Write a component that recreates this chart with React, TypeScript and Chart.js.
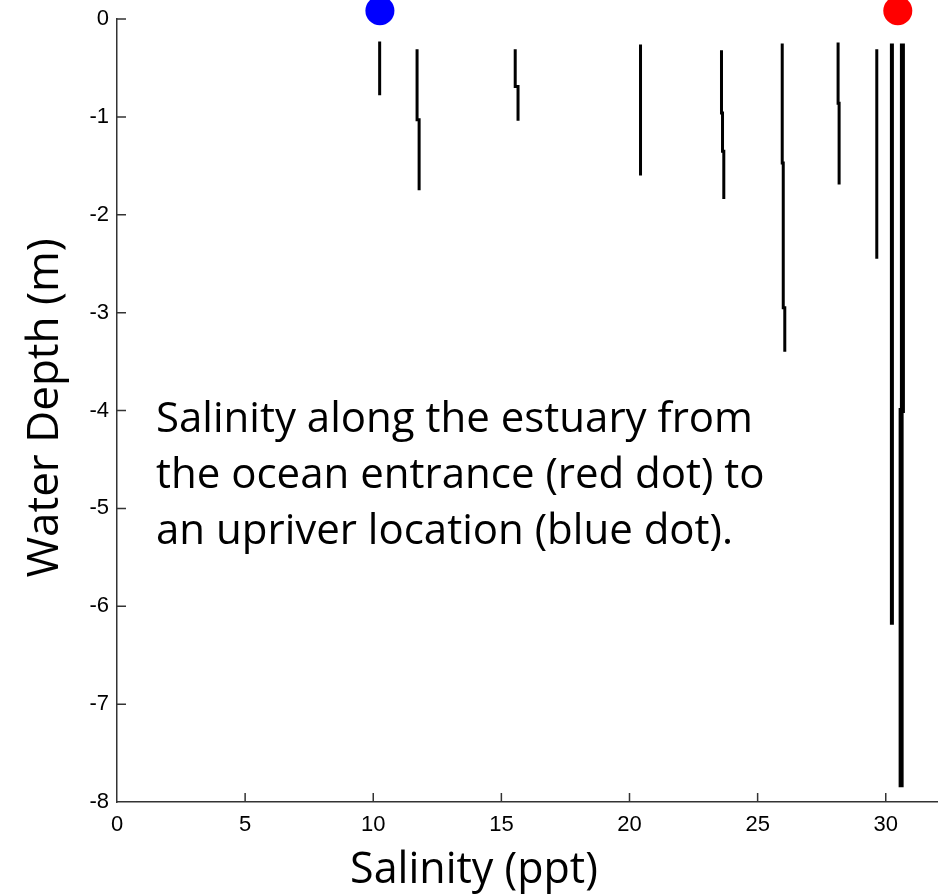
import { useEffect, useRef } from "react";
import { Chart, registerables } from "chart.js";

Chart.register(...registerables);

// Salinity (ppt) and depth (m) pairs for each CTD cast, upriver to ocean entrance
const station01: [number, number][] = [[10.25, -0.23], [10.25, -0.78]];
const station02: [number, number][] = [[11.71, -0.31], [11.71, -1.03], [11.79, -1.03], [11.79, -1.75]];
const station03: [number, number][] = [[15.54, -0.31], [15.54, -0.69], [15.65, -0.69], [15.65, -1.04]];
const station04: [number, number][] = [[20.43, -0.26], [20.43, -1.6]];
const station05: [number, number][] = [[23.59, -0.32], [23.59, -0.96], [23.63, -0.96], [23.63, -1.35], [23.68, -1.35], [23.68, -1.84]];
const station06: [number, number][] = [[25.96, -0.25], [25.96, -1.47], [26.0, -1.47], [26.0, -2.95], [26.06, -2.95], [26.06, -3.4]];
const station07: [number, number][] = [[28.14, -0.24], [28.14, -0.86], [28.18, -0.86], [28.18, -1.69]];
const station08: [number, number][] = [[29.65, -0.31], [29.65, -2.45]];
const station09: [number, number][] = [[30.24, -0.25], [30.24, -6.19]];
const station10: [number, number][] = [[30.65, -0.25], [30.65, -4.0], [30.6, -4.0], [30.6, -7.85]];

const stations = [station01, station02, station03, station04, station05, station06, station07, station08, station09, station10];

// Location markers: upriver (blue) and ocean entrance (red)
const upriverDot: [number, number] = [10.26, 0.085];
const oceanDot: [number, number] = [30.47, 0.085];

const salinityTicks = [0, 5, 10, 15, 20, 25, 30];
const depthTicks = [0, -1, -2, -3, -4, -5, -6, -7, -8];

const xTitle = "Salinity (ppt)";
const yTitle = "Water Depth (m)";
const noteLines = [
  "Salinity along the estuary from",
  "the ocean entrance (red dot) to",
  "an upriver location (blue dot).",
];

const AXIS_COLOR = "#333";
const TEXT_FONT = "'Open Sans'";

const toPoints = (pairs: [number, number][]) => pairs.map(([x, y]) => ({ x, y }));

const decorPlugin = {
  id: "decor",
  afterDraw(chart: any) {
    const { ctx, chartArea, scales } = chart;
    const xs = scales.x;
    const ys = scales.y;
    ctx.save();
    // inward tick marks
    ctx.strokeStyle = AXIS_COLOR;
    ctx.lineWidth = 1.5;
    ctx.beginPath();
    salinityTicks.forEach((v) => {
      const px = xs.getPixelForValue(v);
      if (Math.abs(px - chartArea.left) < 1) return;
      ctx.moveTo(px, chartArea.bottom);
      ctx.lineTo(px, chartArea.bottom - 9);
    });
    depthTicks.forEach((v) => {
      const py = ys.getPixelForValue(v);
      if (Math.abs(py - chartArea.bottom) < 1) return;
      ctx.moveTo(chartArea.left, py);
      ctx.lineTo(chartArea.left + 9, py);
    });
    ctx.stroke();

    ctx.fillStyle = "#000";
    // x axis title
    ctx.font = `43px ${TEXT_FONT}`;
    ctx.textAlign = "center";
    ctx.textBaseline = "alphabetic";
    ctx.fillText(xTitle, 474, 883);

    // y axis title
    ctx.save();
    ctx.translate(58, 408);
    ctx.rotate(-Math.PI / 2);
    ctx.font = `44px ${TEXT_FONT}`;
    ctx.fillText(yTitle, 0, 0);
    ctx.restore();

    // annotation
    ctx.font = `42px ${TEXT_FONT}`;
    ctx.textAlign = "left";
    noteLines.forEach((line, i) => {
      ctx.fillText(line, 156, 432 + i * 56);
    });
    ctx.restore();
  },
};

export default function App() {
  const canvasRef = useRef<HTMLCanvasElement | null>(null);

  useEffect(() => {
    const canvas = canvasRef.current;
    if (!canvas) return;
    const widths = [3, 3, 3, 3, 3, 3, 3, 3, 4, 5];
    const datasets: any[] = stations.map((s, i) => ({
      data: toPoints(s),
      showLine: true,
      borderColor: "#000",
      borderWidth: widths[i],
      pointRadius: 0,
      fill: false,
    }));
    datasets.push({
      data: toPoints([upriverDot]),
      pointRadius: 14.5,
      pointBackgroundColor: "#0000ff",
      pointBorderWidth: 0,
      clip: false,
    });
    datasets.push({
      data: toPoints([oceanDot]),
      pointRadius: 14.5,
      pointBackgroundColor: "#ff0000",
      pointBorderWidth: 0,
      clip: false,
    });

    const chart = new Chart(canvas, {
      type: "scatter",
      data: { datasets },
      options: {
        animation: false,
        responsive: false,
        devicePixelRatio: 1,
        layout: { autoPadding: false, padding: { top: 19, right: 2, left: 0, bottom: 0 } },
        plugins: { legend: { display: false }, tooltip: { enabled: false } },
        events: [],
        scales: {
          x: {
            type: "linear",
            min: 0,
            max: 32,
            afterFit: (scale: any) => {
              scale.height = 93;
              scale.paddingLeft = 0;
              scale.paddingRight = 0;
            },
            afterBuildTicks: (scale: any) => {
              scale.ticks = salinityTicks.map((v) => ({ value: v }));
            },
            ticks: {
              color: "#000",
              font: { family: "Liberation Sans", size: 22 },
              padding: 10,
              maxRotation: 0,
              autoSkip: false,
            },
            grid: { display: false, drawTicks: false },
            border: { display: true, color: AXIS_COLOR, width: 1.5 },
          },
          y: {
            type: "linear",
            min: -8,
            max: 0,
            afterFit: (scale: any) => {
              scale.width = 117;
              scale.paddingTop = 0;
              scale.paddingBottom = 0;
            },
            afterBuildTicks: (scale: any) => {
              scale.ticks = depthTicks.map((v) => ({ value: v }));
            },
            ticks: {
              color: "#000",
              font: { family: "Liberation Sans", size: 22 },
              padding: 8,
              autoSkip: false,
            },
            grid: { display: false, drawTicks: false },
            border: { display: true, color: AXIS_COLOR, width: 1.5 },
          },
        },
      },
      plugins: [decorPlugin],
    });
    return () => chart.destroy();
  }, []);

  return (
    <div style={{ position: "fixed", left: 0, top: 0, width: 939, height: 895, background: "#fff" }}>
      <canvas ref={canvasRef} width={939} height={895} style={{ display: "block" }} />
    </div>
  );
}
